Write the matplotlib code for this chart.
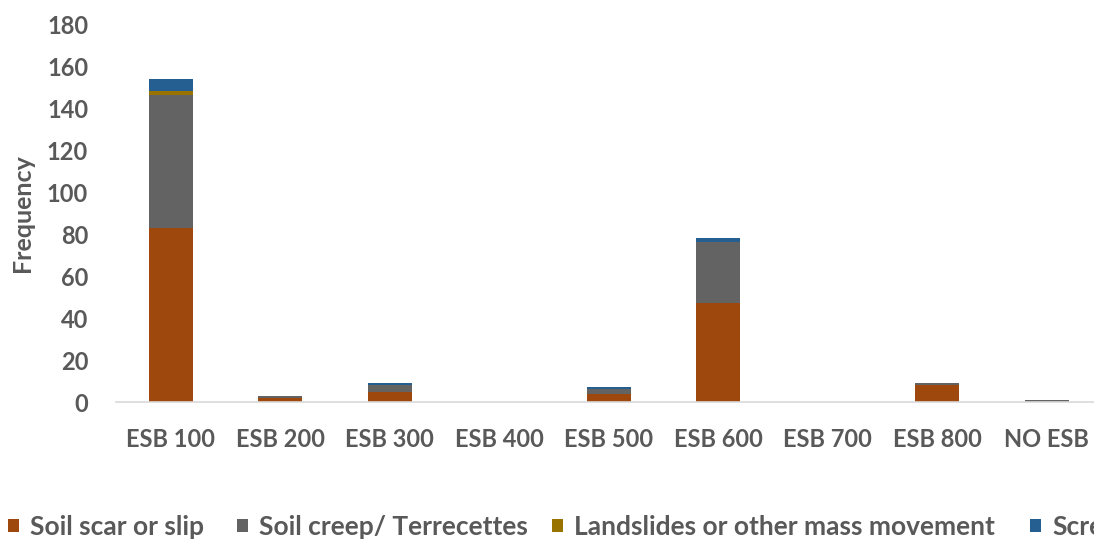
import matplotlib
matplotlib.use("Agg")
import matplotlib.pyplot as plt
from matplotlib.patches import Patch
import numpy as np

categories = ["ESB 100", "ESB 200", "ESB 300", "ESB 400", "ESB 500",
              "ESB 600", "ESB 700", "ESB 800", "NO ESB"]
soil_scar = [83, 2, 5, 0, 4, 47, 0, 8, 0]
soil_creep = [63, 1, 3, 0, 2, 29, 0, 1, 1]
landslides = [2, 0, 0, 0, 0, 0, 0, 0, 0]
scree = [6, 0, 1, 0, 1, 2, 0, 0, 0]

series_names = ["Soil scar or slip", "Soil creep/ Terrecettes",
                "Landslides or other mass movement", "Scree"]
series_values = [soil_scar, soil_creep, landslides, scree]
series_colors = ["#9E480E", "#636363", "#997300", "#255E91"]

text_color = "#595959"
font = "Lato"
W, H = 1094, 540

fig = plt.figure(figsize=(W / 100, H / 100), dpi=100)
ax = fig.add_axes([116 / W, 1 - 402 / H, 985.5 / W, 378 / H])

x = np.arange(len(categories))
bottom = np.zeros(len(categories))
for name, vals, col in zip(series_names, series_values, series_colors):
    vals = np.array(vals, dtype=float)
    ax.bar(x, vals, width=0.4, bottom=bottom, color=col, label=name,
           edgecolor="none", zorder=2)
    bottom += vals

ax.set_xlim(-0.5, len(categories) - 0.5)
ax.set_ylim(0, 180)
ax.set_yticks(np.arange(0, 181, 20))
ax.set_xticks(x)
ax.set_xticklabels(categories)

for side in ["top", "right", "left"]:
    ax.spines[side].set_visible(False)
ax.spines["bottom"].set_color("#D9D9D9")
ax.spines["bottom"].set_linewidth(1.2)
ax.spines["bottom"].set_zorder(3)

ax.tick_params(axis="both", length=0, colors=text_color)
ax.tick_params(axis="y", pad=20)
ax.tick_params(axis="x", pad=19)
for lbl in ax.get_xticklabels() + ax.get_yticklabels():
    lbl.set_fontfamily(font)
    lbl.set_fontweight("bold")
    lbl.set_fontsize(17)

ax.set_ylabel("Frequency", fontfamily=font, fontweight="bold",
              fontsize=18, color=text_color)
ylab = ax.yaxis.label
ylab.set_transform(fig.transFigure)
ylab.set_position((22 / W, 1 - 213 / H))
ylab.set_verticalalignment("center")
ax.yaxis.set_label_coords(22 / W, 1 - 213 / H, transform=fig.transFigure)

# legend entries laid out in one row along the bottom edge
legend_x = [8, 237, 552, 1030]
for name, col, lx in zip(series_names, series_colors, legend_x):
    leg = fig.legend([Patch(facecolor=col, edgecolor="none")], [name],
                     loc="center left", bbox_to_anchor=(lx / W, 1 - 527 / H),
                     frameon=False,
                     prop={"family": font, "weight": "bold", "size": 19},
                     handlelength=0.42, handleheight=0.42, handletextpad=0.42,
                     borderaxespad=0, borderpad=0)
    for t in leg.get_texts():
        t.set_color(text_color)

fig.savefig("out.png", dpi=100)
